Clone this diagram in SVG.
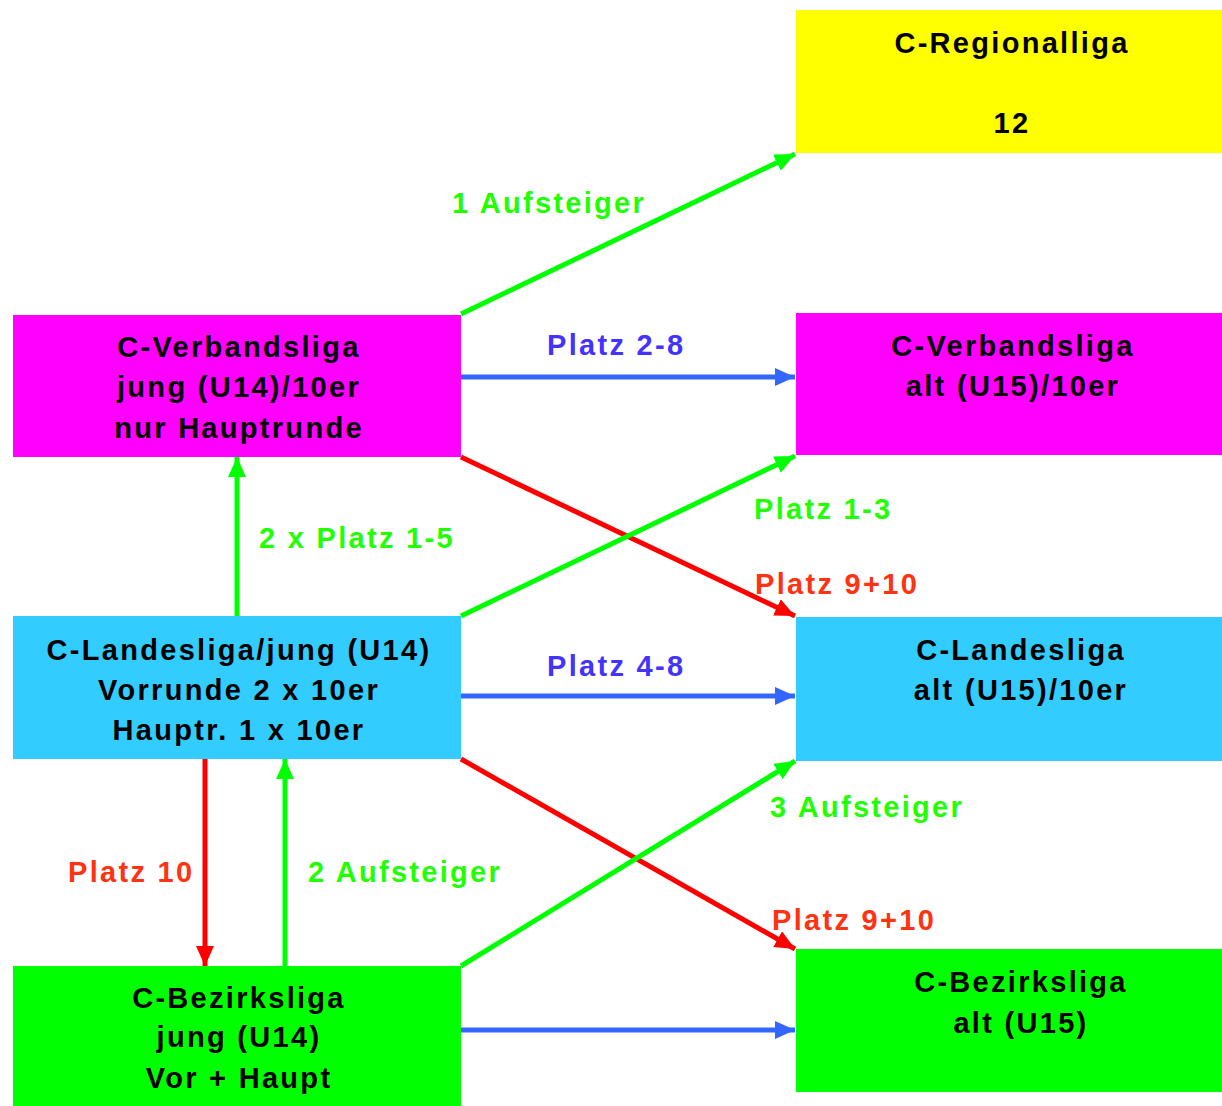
<svg xmlns="http://www.w3.org/2000/svg" width="1222" height="1106" viewBox="0 0 1222 1106">
<style>
  text { font-family: "Liberation Sans", Arial, sans-serif; font-weight: bold; font-size: 29px; letter-spacing: 2.3px; }
  .node { fill: #000000; text-anchor: middle; }
  .lg { fill: #22FF00; }
  .lb { fill: #4433FF; }
  .lr { fill: #FF3311; }
  .cg { stroke: #00FF00; stroke-width: 5; fill: none; }
  .cb { stroke: #3366FF; stroke-width: 5; fill: none; }
  .cr { stroke: #FF0000; stroke-width: 5; fill: none; }
</style>
<defs>
  <marker id="ag" markerUnits="userSpaceOnUse" markerWidth="22" markerHeight="18" refX="20" refY="9" orient="auto"><path d="M0,0 L20,9 L0,18 z" fill="#00FF00"/></marker>
  <marker id="ab" markerUnits="userSpaceOnUse" markerWidth="22" markerHeight="18" refX="20" refY="9" orient="auto"><path d="M0,0 L20,9 L0,18 z" fill="#3366FF"/></marker>
  <marker id="ar" markerUnits="userSpaceOnUse" markerWidth="22" markerHeight="18" refX="20" refY="9" orient="auto"><path d="M0,0 L20,9 L0,18 z" fill="#FF0000"/></marker>
</defs>
<rect width="1222" height="1106" fill="#FFFFFF"/>

<g id="n-regionalliga">
  <rect x="796" y="10" width="426" height="143" fill="#FFFF00"/>
  <text class="node" x="1012" y="53">C-Regionalliga</text>
  <text class="node" x="1012" y="133">12</text>
</g>
<g id="n-verbandsliga-jung">
  <rect x="13" y="315" width="448" height="142" fill="#FF00FF"/>
  <text class="node" x="239" y="357">C-Verbandsliga</text>
  <text class="node" x="239" y="397">jung (U14)/10er</text>
  <text class="node" x="239" y="438">nur Hauptrunde</text>
</g>
<g id="n-verbandsliga-alt">
  <rect x="796" y="313" width="426" height="142" fill="#FF00FF"/>
  <text class="node" x="1013" y="356">C-Verbandsliga</text>
  <text class="node" x="1013" y="396">alt (U15)/10er</text>
</g>
<g id="n-landesliga-jung">
  <rect x="13" y="616" width="448" height="143" fill="#33CCFF"/>
  <text class="node" x="239" y="660">C-Landesliga/jung (U14)</text>
  <text class="node" x="239" y="700">Vorrunde 2 x 10er</text>
  <text class="node" x="239" y="740">Hauptr. 1 x 10er</text>
</g>
<g id="n-landesliga-alt">
  <rect x="796" y="617" width="426" height="144" fill="#33CCFF"/>
  <text class="node" x="1021" y="660">C-Landesliga</text>
  <text class="node" x="1021" y="700">alt (U15)/10er</text>
</g>
<g id="n-bezirksliga-jung">
  <rect x="13" y="966" width="448" height="140" fill="#00FF00"/>
  <text class="node" x="239" y="1008">C-Bezirksliga</text>
  <text class="node" x="239" y="1047">jung (U14)</text>
  <text class="node" x="239" y="1088">Vor + Haupt</text>
</g>
<g id="n-bezirksliga-alt">
  <rect x="796" y="949" width="426" height="143" fill="#00FF00"/>
  <text class="node" x="1021" y="992">C-Bezirksliga</text>
  <text class="node" x="1021" y="1033">alt (U15)</text>
</g>

<g id="connectors">
  <line class="cg" x1="461" y1="314" x2="795" y2="154" marker-end="url(#ag)"/>
  <line class="cb" x1="461" y1="377" x2="795" y2="377" marker-end="url(#ab)"/>
  <line class="cr" x1="461" y1="457" x2="795" y2="616" marker-end="url(#ar)"/>
  <line class="cg" x1="461" y1="616" x2="795" y2="456" marker-end="url(#ag)"/>
  <line class="cg" x1="237" y1="616" x2="237" y2="457" marker-end="url(#ag)"/>
  <line class="cb" x1="461" y1="696" x2="795" y2="696" marker-end="url(#ab)"/>
  <line class="cr" x1="461" y1="759" x2="795" y2="949" marker-end="url(#ar)"/>
  <line class="cg" x1="461" y1="966" x2="795" y2="761" marker-end="url(#ag)"/>
  <line class="cr" x1="205" y1="759" x2="205" y2="966" marker-end="url(#ar)"/>
  <line class="cg" x1="285" y1="966" x2="285" y2="759" marker-end="url(#ag)"/>
  <line class="cb" x1="461" y1="1030" x2="795" y2="1030" marker-end="url(#ab)"/>
</g>

<g id="labels">
  <text class="lg" x="452" y="213">1 Aufsteiger</text>
  <text class="lb" x="547" y="355">Platz 2-8</text>
  <text class="lg" x="754" y="519">Platz 1-3</text>
  <text class="lg" x="259" y="548">2 x Platz 1-5</text>
  <text class="lr" x="755" y="594">Platz 9+10</text>
  <text class="lb" x="547" y="676">Platz 4-8</text>
  <text class="lg" x="770" y="817">3 Aufsteiger</text>
  <text class="lr" x="68" y="882">Platz 10</text>
  <text class="lg" x="308" y="882">2 Aufsteiger</text>
  <text class="lr" x="772" y="930">Platz 9+10</text>
</g>
</svg>
